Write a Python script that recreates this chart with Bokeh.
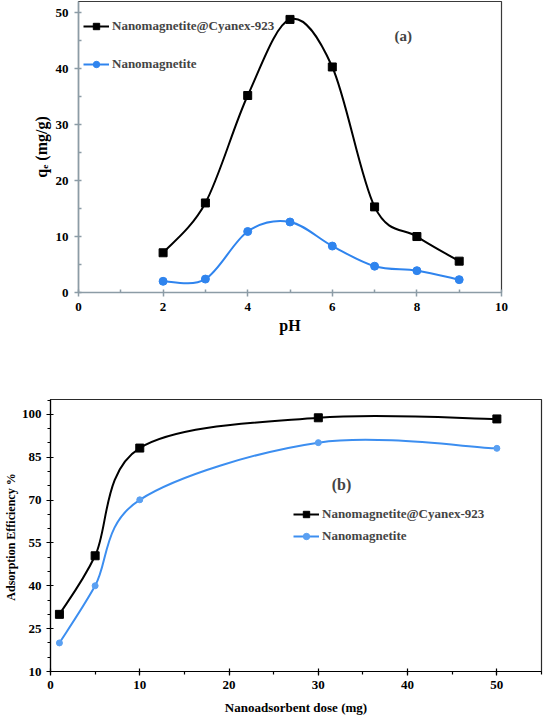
from bokeh.plotting import figure
from bokeh.models import (ColumnDataSource, Range1d, SingleIntervalTicker, FixedTicker,
                          Legend, LegendItem, Label, Spacer)
from bokeh.layouts import row
from bokeh.embed import file_html
from bokeh.resources import INLINE

# ---- data (a) ----
ph = [2, 3, 4, 5, 6, 7, 8, 9]
qe_cyanex = [7.1, 16.0, 35.2, 48.8, 40.3, 15.3, 10.0, 5.6]
qe_magnetite = [2.0, 2.4, 10.9, 12.6, 8.3, 4.7, 3.9, 2.3]

# ---- data (b) ----
dose = [1, 5, 10, 30, 50]
eff_cyanex = [30.0, 50.5, 88.2, 98.8, 98.4]
eff_magnetite = [20.0, 40.0, 70.1, 90.1, 88.1]

label_cyanex = "Nanomagnetite@Cyanex-923"
label_magnetite = "Nanomagnetite"

FONT = "Liberation Serif"


def smooth_source(xs, ys):
    """Excel-like smoothed line: cubic Bezier control points (Catmull-Rom, 1/6)."""
    n = len(xs)
    d = dict(x0=[], y0=[], x1=[], y1=[], cx0=[], cy0=[], cx1=[], cy1=[])
    for i in range(n - 1):
        a = max(i - 1, 0)
        b = min(i + 2, n - 1)
        d["x0"].append(xs[i]); d["y0"].append(ys[i])
        d["x1"].append(xs[i + 1]); d["y1"].append(ys[i + 1])
        d["cx0"].append(xs[i] + (xs[i + 1] - xs[a]) / 6.0)
        d["cy0"].append(ys[i] + (ys[i + 1] - ys[a]) / 6.0)
        d["cx1"].append(xs[i + 1] - (xs[b] - xs[i]) / 6.0)
        d["cy1"].append(ys[i + 1] - (ys[b] - ys[i]) / 6.0)
    return ColumnDataSource(d)


def style_axes(p, color, lw, tick_font, mj_in, mj_out, mn_in, mn_out, standoff):
    for ax in (p.xaxis[0], p.yaxis[0]):
        ax.axis_line_color = color
        ax.axis_line_width = lw
        ax.major_tick_line_color = color
        ax.minor_tick_line_color = color
        ax.major_tick_line_width = lw
        ax.minor_tick_line_width = lw
        ax.major_tick_in = mj_in
        ax.major_tick_out = mj_out
        ax.minor_tick_in = mn_in
        ax.minor_tick_out = mn_out
        ax.major_label_text_font = FONT
        ax.major_label_text_font_style = "bold"
        ax.major_label_text_font_size = tick_font
        ax.major_label_text_color = "black"
        ax.major_label_standoff = standoff
        ax.axis_label_text_font = FONT
        ax.axis_label_text_font_style = "bold"
        ax.axis_label_text_color = "black"


# ================= (a) =================
pa = figure(width=515, height=345, output_backend="svg", toolbar_location=None,
            x_range=Range1d(0, 10), y_range=Range1d(0, 52),
            min_border_left=50, min_border_right=42, min_border_top=1, min_border_bottom=53)
pa.xgrid.visible = False
pa.ygrid.visible = False
pa.outline_line_color = "#3a3a3a"
pa.outline_line_width = 1.2
pa.background_fill_color = "white"
pa.border_fill_color = "white"

pa.xaxis.ticker = SingleIntervalTicker(interval=2, num_minor_ticks=2)
pa.yaxis.ticker = SingleIntervalTicker(interval=10, num_minor_ticks=2)
style_axes(pa, "#8c9ca6", 1.5, "13px", 0, 4, 3, 0, 6)
pa.xaxis.axis_label = "pH"
pa.yaxis.axis_label = "qₑ (mg/g)"
pa.xaxis.axis_label_text_font_size = "16px"
pa.yaxis.axis_label_text_font_size = "16px"
pa.xaxis.axis_label_standoff = 3
pa.yaxis.axis_label_standoff = 3

blue_a = "#2f84ee"
ca_line = pa.bezier(x0="x0", y0="y0", x1="x1", y1="y1", cx0="cx0", cy0="cy0", cx1="cx1", cy1="cy1",
                    source=smooth_source(ph, qe_cyanex), line_color="black", line_width=2)
ca_pts = pa.scatter(ph, qe_cyanex, marker="square", size=8, fill_color="black", line_color="black")
ma_line = pa.bezier(x0="x0", y0="y0", x1="x1", y1="y1", cx0="cx0", cy0="cy0", cx1="cx1", cy1="cy1",
                    source=smooth_source(ph, qe_magnetite), line_color=blue_a, line_width=2)
ma_pts = pa.scatter(ph, qe_magnetite, marker="circle", size=8, fill_color=blue_a, line_color=blue_a)

leg_a = Legend(items=[LegendItem(label=label_cyanex, renderers=[ca_line, ca_pts]),
                      LegendItem(label=label_magnetite, renderers=[ma_line, ma_pts])],
               location=(0, 215), margin=0, padding=5, spacing=22,
               glyph_width=26, glyph_height=16, label_height=16, label_standoff=3,
               label_text_font=FONT, label_text_font_style="bold", label_text_font_size="13px",
               background_fill_alpha=0, border_line_alpha=0)
pa.add_layout(leg_a)
pa.add_layout(Label(x=7.68, y=45.9, text="(a)", text_font=FONT, text_font_style="bold",
                    text_font_size="15px", text_align="center", text_baseline="middle"))

top_row = row(Spacer(width=28, height=345), pa)

# ================= (b) =================
pb = figure(width=543, height=372, output_backend="svg", toolbar_location=None,
            x_range=Range1d(0, 55), y_range=Range1d(10, 105.2),
            min_border_left=48, min_border_right=2, min_border_top=54, min_border_bottom=45)
pb.xgrid.visible = False
pb.ygrid.visible = False
pb.outline_line_color = "#2a2a2a"
pb.outline_line_width = 1.2
pb.background_fill_color = "white"
pb.border_fill_color = "white"

pb.xaxis.ticker = SingleIntervalTicker(interval=10, num_minor_ticks=2)
pb.yaxis.ticker = FixedTicker(ticks=[10, 25, 40, 55, 70, 85, 100],
                              minor_ticks=[15, 20, 30, 35, 45, 50, 60, 65, 75, 80, 90, 95, 105])
style_axes(pb, "black", 1.2, "13px", 3, 4, 0, 3, 5)
pb.xaxis.axis_label = "Nanoadsorbent dose (mg)"
pb.yaxis.axis_label = "Adsorption Efficiency  %"
pb.xaxis.axis_label_text_font_size = "13px"
pb.yaxis.axis_label_text_font_size = "12px"
pb.xaxis.axis_label_standoff = 8
pb.yaxis.axis_label_standoff = 1

blue_b = "#3c8ef0"
cb_line = pb.bezier(x0="x0", y0="y0", x1="x1", y1="y1", cx0="cx0", cy0="cy0", cx1="cx1", cy1="cy1",
                    source=smooth_source(dose, eff_cyanex), line_color="black", line_width=2)
cb_pts = pb.scatter(dose, eff_cyanex, marker="square", size=8, fill_color="black", line_color="black")
mb_line = pb.bezier(x0="x0", y0="y0", x1="x1", y1="y1", cx0="cx0", cy0="cy0", cx1="cx1", cy1="cy1",
                    source=smooth_source(dose, eff_magnetite), line_color=blue_b, line_width=2)
mb_pts = pb.scatter(dose, eff_magnetite, marker="circle", size=6, fill_color="#5aa0f2", line_color="#5aa0f2")

leg_b = Legend(items=[LegendItem(label=label_cyanex, renderers=[cb_line, cb_pts]),
                      LegendItem(label=label_magnetite, renderers=[mb_line, mb_pts])],
               location=(238, 122), margin=0, padding=5, spacing=6,
               glyph_width=26, glyph_height=16, label_height=16, label_standoff=3,
               label_text_font=FONT, label_text_font_style="bold", label_text_font_size="13px",
               background_fill_alpha=0, border_line_alpha=0)
pb.add_layout(leg_b)
pb.add_layout(Label(x=32.6, y=75.6, text="(b)", text_font=FONT, text_font_style="bold",
                    text_font_size="16px", text_align="center", text_baseline="middle"))

open("out.html", "w").write(file_html([top_row, pb], INLINE))
